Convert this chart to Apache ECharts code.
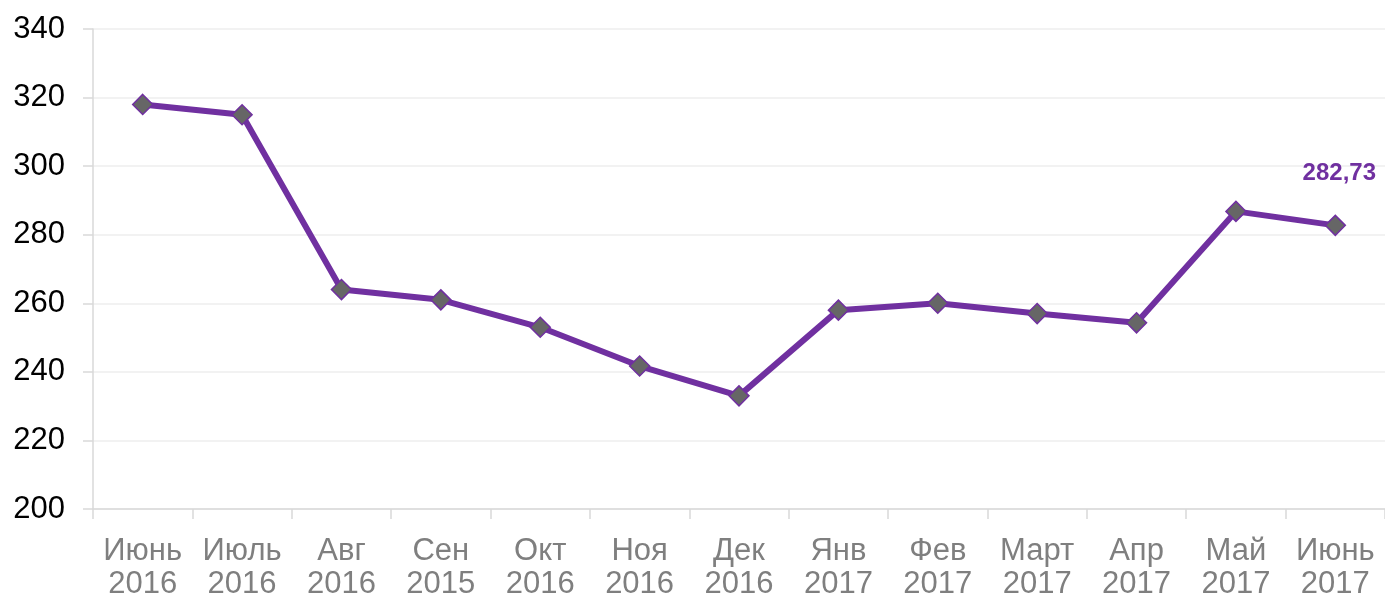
<!DOCTYPE html>
<html>
<head>
<meta charset="utf-8">
<script src="https://cdn.jsdelivr.net/npm/echarts@6/dist/echarts.min.js"></script>
<style>
html, body { margin: 0; padding: 0; background: #fff; }
#chart { width: 1385px; height: 595px; }
</style>
</head>
<body>
<div id="chart"></div>
<script>
const categories = ['Июнь\n2016', 'Июль\n2016', 'Авг\n2016', 'Сен\n2015', 'Окт\n2016', 'Ноя\n2016', 'Дек\n2016',
    'Янв\n2017', 'Фев\n2017', 'Март\n2017', 'Апр\n2017', 'Май\n2017', 'Июнь\n2017'];
const values = [318, 315, 264, 261, 253, 241.7, 233, 258, 260, 257, 254.3, 286.8, 282.73];
const lastLabel = '282,73';

const myChart = echarts.init(document.getElementById('chart'));

const option = {
    backgroundColor: '#fff',
    animation: false,
    grid: {
        top: 29,
        left: 93,
        right: 0,
        bottom: 86,
        containLabel: false,
        outerBoundsMode: 'none',
    },
    xAxis: {
        type: 'category',
        data: categories,
        boundaryGap: true,
        axisLine: { lineStyle: { color: '#d9d9d9', width: 1.5 } },
        axisTick: { show: true, length: 10, lineStyle: { color: '#d9d9d9', width: 1.5 } },
        axisLabel: {
            color: '#7f7f7f',
            fontSize: 31,
            fontFamily: 'Liberation Sans, Arial',
            lineHeight: 33,
            margin: 26,
            interval: 0,
        },
    },
    yAxis: {
        type: 'value',
        min: 200,
        max: 340,
        interval: 20,
        axisLine: { show: true, lineStyle: { color: '#d9d9d9', width: 1.5 } },
        axisTick: { show: true, length: 10, lineStyle: { color: '#d9d9d9', width: 1.5 } },
        splitLine: { lineStyle: { color: '#eeeeee', width: 1.5 } },
        axisLabel: {
            color: '#000',
            fontSize: 31,
            fontFamily: 'Liberation Sans, Arial',
            margin: 28,
        },
    },
    series: [
        {
            type: 'line',
            data: values.map((v, i) => {
                if (i === values.length - 1) {
                    return {
                        value: v,
                        label: {
                            show: true,
                            position: 'top',
                            distance: 29,
                            offset: [4, 0],
                            formatter: lastLabel,
                            color: '#7030a0',
                            fontWeight: 'bold',
                            fontSize: 24,
                            fontFamily: 'Liberation Sans, Arial',
                        },
                    };
                }
                return v;
            }),
            symbol: 'diamond',
            symbolSize: 20,
            showAllSymbol: true,
            lineStyle: { color: '#7030a0', width: 6 },
            itemStyle: { color: '#666666', borderColor: '#7030a0', borderWidth: 1.5 },
        },
    ],
};

myChart.setOption(option);
</script>
</body>
</html>
